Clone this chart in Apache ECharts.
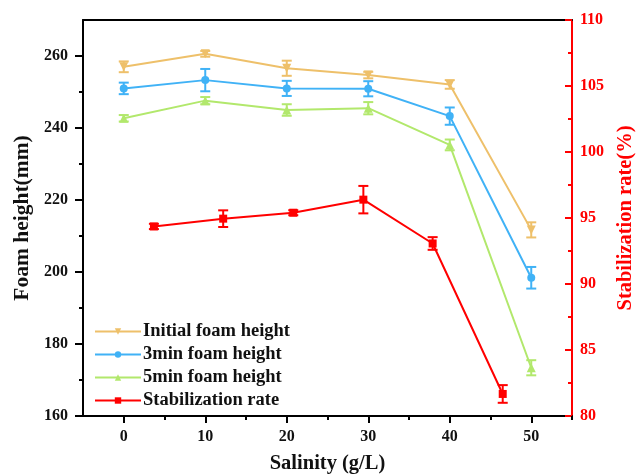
<!DOCTYPE html>
<html>
<head>
<meta charset="utf-8">
<script src="https://cdn.jsdelivr.net/npm/echarts@6/dist/echarts.min.js"></script>
<style>html,body{margin:0;padding:0;background:#fff;}#c{width:640px;height:476px;}</style>
</head>
<body>
<div id="c"></div>
<script>
const salinity = [0, 10, 20, 30, 40, 50];
const rateX = [3.7, 12.2, 20.8, 29.4, 37.9, 46.5];
const initialH = [257.0, 260.6, 256.6, 254.7, 252.1, 211.7];
const initialErr = [1.5, 0.8, 2.1, 0.9, 1.2, 2.1];
const min3H = [251.0, 253.3, 251.0, 250.9, 243.3, 198.4];
const min3Err = [1.6, 3.1, 2.1, 2.1, 2.4, 3.0];
const min5H = [242.7, 247.6, 245.0, 245.5, 235.3, 173.4];
const min5Err = [0.9, 1.0, 1.6, 1.7, 1.5, 2.1];
const rate = [94.36, 94.95, 95.40, 96.39, 93.07, 81.67];
const rateErr = [0.2, 0.63, 0.19, 1.04, 0.48, 0.67];
const xMajor = [0, 10, 20, 30, 40, 50];
const xMinor = [5, 15, 25, 35, 45, 55];
const yMajor = [160, 180, 200, 220, 240, 260];
const yMinor = [170, 190, 210, 230, 250];

const names = ['Initial foam height', '3min foam height', '5min foam height', 'Stabilization rate'];
const colors = ['#EEC06A', '#40B2F6', '#B2E86C', '#FF0000'];
const FONT = '"Liberation Serif", "Times New Roman", serif';

function errData(xs, ys, es) {
  return xs.map((x, i) => [x, ys[i] - es[i], ys[i] + es[i]]);
}
function errSeries(name, xs, ys, es, color, yIdx) {
  return {
    type: 'custom', name: name + ' err', yAxisIndex: yIdx, z: 3,
    data: errData(xs, ys, es),
    encode: { x: 0, y: [1, 2] },
    renderItem: function (params, api) {
      const lo = api.coord([api.value(0), api.value(1)]);
      const hi = api.coord([api.value(0), api.value(2)]);
      const w = 5;
      const st = { stroke: color, lineWidth: 2 };
      return { type: 'group', children: [
        { type: 'line', shape: { x1: lo[0], y1: lo[1], x2: hi[0], y2: hi[1] }, style: st },
        { type: 'line', shape: { x1: lo[0] - w, y1: lo[1], x2: lo[0] + w, y2: lo[1] }, style: st },
        { type: 'line', shape: { x1: hi[0] - w, y1: hi[1], x2: hi[0] + w, y2: hi[1] }, style: st }
      ]};
    }
  };
}
function lineSeries(name, xs, ys, color, symbol, size, yIdx) {
  return {
    type: 'line', name: name, yAxisIndex: yIdx, z: 4,
    data: xs.map((x, i) => [x, ys[i]]),
    symbol: symbol, symbolSize: size, showSymbol: true,
    lineStyle: { color: color, width: 2 },
    itemStyle: { color: color },
    emphasis: { disabled: true }
  };
}
const downTri = 'path://M0,0 L10,0 L5,9 Z';

const chart = echarts.init(document.getElementById('c'), null, { renderer: 'canvas' });
chart.setOption({
  animation: false,
  backgroundColor: '#fff',
  grid: { left: 83, right: 68, top: 20, bottom: 60, containLabel: false, outerBoundsMode: 'none' },
  legend: {
    data: names, orient: 'vertical', left: 89, top: 317,
    itemWidth: 46, itemHeight: 8, itemGap: 4,
    textStyle: { fontFamily: FONT, fontWeight: 'bold', fontSize: 18.5, color: '#111', padding: [0, 0, 0, -3] }
  },
  xAxis: [
    {
      type: 'value', min: -5, max: 55, position: 'bottom',
      name: 'Salinity (g/L)', nameLocation: 'middle', nameGap: 37,
      nameTextStyle: { fontFamily: FONT, fontWeight: 'bold', fontSize: 20.5, color: '#111' },
      axisLine: { show: true, onZero: false, lineStyle: { color: '#000', width: 2 } },
      axisTick: { show: true, customValues: xMajor, length: 7, lineStyle: { color: '#000', width: 2 } },
      axisLabel: { customValues: xMajor, margin: 13, fontFamily: FONT, fontWeight: 'bold', fontSize: 16, color: '#111' },
      splitLine: { show: false }
    },
    {
      type: 'value', min: -5, max: 55, position: 'bottom',
      axisLine: { show: false, onZero: false },
      axisTick: { show: true, customValues: xMinor, length: 4, lineStyle: { color: '#000', width: 2 } },
      axisLabel: { show: false }, splitLine: { show: false }
    },
    {
      type: 'value', min: -5, max: 55, position: 'top',
      axisLine: { show: true, onZero: false, lineStyle: { color: '#000', width: 2 } },
      axisTick: { show: false }, axisLabel: { show: false }, splitLine: { show: false }
    }
  ],
  yAxis: [
    {
      type: 'value', min: 160, max: 270, position: 'left',
      name: 'Foam height(mm)', nameLocation: 'middle', nameGap: 49,
      nameTextStyle: { fontFamily: FONT, fontWeight: 'bold', fontSize: 21.5, color: '#111' },
      axisLine: { show: true, onZero: false, lineStyle: { color: '#000', width: 2 } },
      axisTick: { show: true, customValues: yMajor, length: 8, lineStyle: { color: '#000', width: 2 } },
      axisLabel: { customValues: yMajor, margin: 15, fontFamily: FONT, fontWeight: 'bold', fontSize: 16, color: '#111' },
      splitLine: { show: false }
    },
    {
      type: 'value', min: 80, max: 110, interval: 5, position: 'right',
      name: 'Stabilization rate(%)', nameLocation: 'middle', nameGap: 41, nameRotate: 90,
      nameTextStyle: { fontFamily: FONT, fontWeight: 'bold', fontSize: 20.5, color: '#FF0000' },
      axisLine: { show: true, onZero: false, lineStyle: { color: '#FF0000', width: 2 } },
      axisTick: { show: true, inside: true, length: 7, lineStyle: { color: '#FF0000', width: 2 } },
      minorTick: { show: true, splitNumber: 2, length: 4, lineStyle: { color: '#FF0000', width: 2 } },
      axisLabel: { margin: 8, fontFamily: FONT, fontWeight: 'bold', fontSize: 16, color: '#FF0000' },
      splitLine: { show: false }, minorSplitLine: { show: false }
    },
    {
      type: 'value', min: 160, max: 270, position: 'left',
      axisLine: { show: false, onZero: false },
      axisTick: { show: true, customValues: yMinor, length: 4, lineStyle: { color: '#000', width: 2 } },
      axisLabel: { show: false }, splitLine: { show: false }
    }
  ],
  series: [
    errSeries(names[0], salinity, initialH, initialErr, colors[0], 0),
    errSeries(names[1], salinity, min3H, min3Err, colors[1], 0),
    errSeries(names[2], salinity, min5H, min5Err, colors[2], 0),
    errSeries(names[3], rateX, rate, rateErr, colors[3], 1),
    lineSeries(names[0], salinity, initialH, colors[0], downTri, 9, 0),
    lineSeries(names[1], salinity, min3H, colors[1], 'circle', 8, 0),
    lineSeries(names[2], salinity, min5H, colors[2], 'triangle', 9, 0),
    lineSeries(names[3], rateX, rate, colors[3], 'rect', 8, 1)
  ]
});
</script>
</body>
</html>
